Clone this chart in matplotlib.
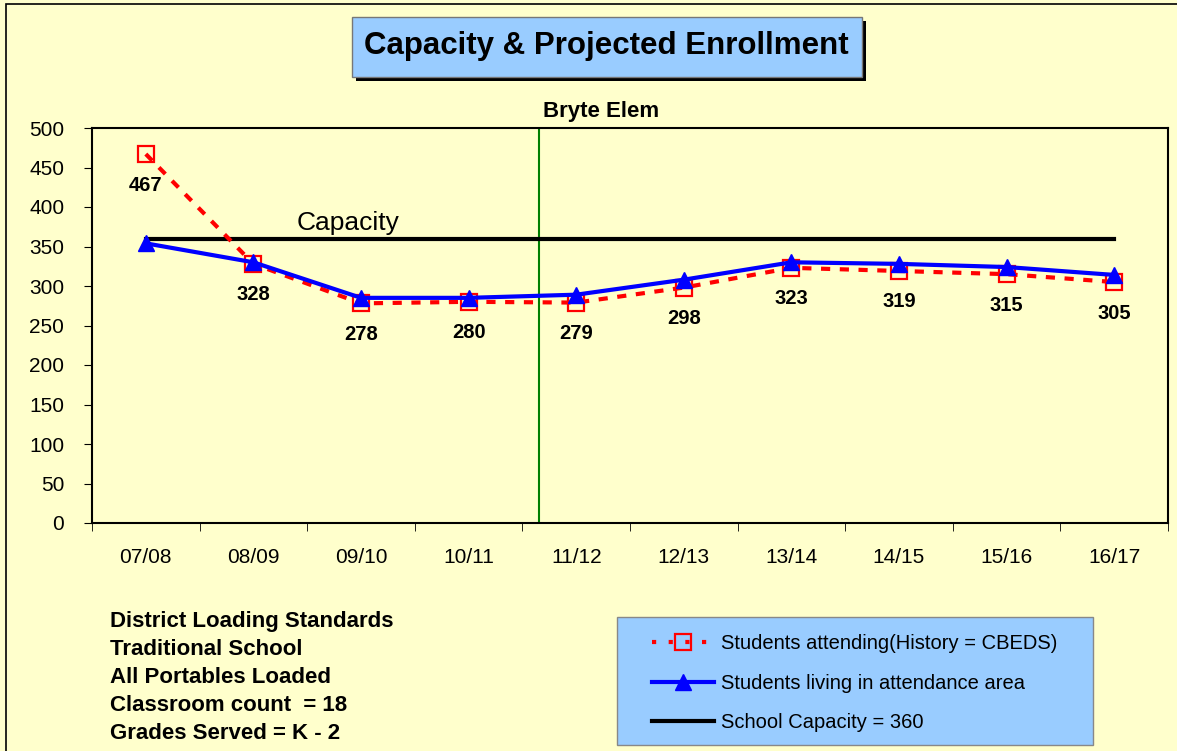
import matplotlib.pyplot as plt
from matplotlib.patches import Rectangle
from matplotlib.lines import Line2D

plt.rcParams['font.family'] = ['Liberation Sans', 'DejaVu Sans']

years = ["07/08", "08/09", "09/10", "10/11", "11/12", "12/13", "13/14", "14/15", "15/16", "16/17"]
attending = [467, 328, 278, 280, 279, 298, 323, 319, 315, 305]
living = [354, 330, 285, 285, 289, 308, 330, 328, 324, 314]
capacity = 360
split_pos = 3.65  # history / projection divider
notes = ["District Loading Standards", "Traditional School", "All Portables Loaded",
         "Classroom count  = 18", "Grades Served = K - 2"]

W, H = 1177, 751
bg = "#FFFFCC"
fig = plt.figure(figsize=(W / 100, H / 100), dpi=100, facecolor=bg)

# outer frame
fig.patches.append(Rectangle((6 / W, -0.1), 1.2, 1 - 4 / H + 0.1, transform=fig.transFigure,
                             fill=False, edgecolor="black", linewidth=1.2))

ax = fig.add_axes([92 / W, 1 - 523 / H, (1168 - 92) / W, (523 - 128) / H])
ax.set_facecolor(bg)
x = list(range(len(years)))

ax.plot([x[0], x[-1]], [capacity, capacity], color="black", linewidth=3, zorder=2)
ax.plot(x, attending, color="red", linestyle=(0, (2.2, 2.3)), linewidth=3, marker="s",
        markersize=12, markerfacecolor="none", markeredgecolor="red", markeredgewidth=1.6, zorder=3)
ax.plot(x, living, color="blue", linewidth=3, marker="^", markersize=12, zorder=4)
ax.axvline(split_pos, color="green", linewidth=1.5, zorder=1)

for xi, v in zip(x, attending):
    ax.annotate(str(v), (xi, v), xytext=(0, -31), textcoords="offset pixels",
                ha="center", va="center", fontsize=14.5, fontweight="bold")

ax.text(1.88, capacity + 5, "Capacity", ha="center", va="bottom", fontsize=19)

ax.set_xlim(-0.5, len(years) - 0.5)
ax.set_ylim(0, 500)
ax.set_yticks(range(0, 501, 50))
ax.set_xticks(x)
ax.set_xticklabels(years)
ax.set_xticks([i - 0.5 for i in range(len(years) + 1)], minor=True)
ax.tick_params(axis="x", which="major", length=0, labelsize=15, pad=18)
ax.tick_params(axis="x", which="minor", length=6, direction="out")
ax.tick_params(axis="y", labelsize=15, length=6, direction="out", pad=14)
for s in ax.spines.values():
    s.set_linewidth(1.5)
fig.text(601 / W, 1 - 111 / H, "Bryte Elem", ha="center", va="center", fontsize=16, fontweight="bold")

# title box with shadow
fig.patches.append(Rectangle((356 / W, 1 - 81 / H), 510 / W, 60 / H, transform=fig.transFigure,
                             facecolor="black", edgecolor="none"))
fig.patches.append(Rectangle((352 / W, 1 - 77 / H), 510 / W, 60 / H, transform=fig.transFigure,
                             facecolor="#99CCFF", edgecolor="#777777", linewidth=1))
fig.text(606 / W, 1 - 46 / H, "Capacity & Projected Enrollment", ha="center", va="center",
         fontsize=22.5, fontweight="bold")

# notes
for i, line in enumerate(notes):
    fig.text(110 / W, 1 - (622 + i * 27.8) / H, line, ha="left", va="center",
             fontsize=16, fontweight="bold")

# legend box
fig.patches.append(Rectangle((617 / W, 1 - 745 / H), 476 / W, 128 / H, transform=fig.transFigure,
                             facecolor="#99CCFF", edgecolor="#888888", linewidth=1))
handles = [
    Line2D([], [], color="red", linestyle=(0, (1, 3)), linewidth=3, marker="s", markersize=12,
           markerfacecolor="none", markeredgecolor="red", markeredgewidth=1.6),
    Line2D([], [], color="blue", linewidth=3, marker="^", markersize=12),
    Line2D([], [], color="black", linewidth=3),
]
labels = ["Students attending(History = CBEDS)", "Students living in attendance area",
          "School Capacity = 360"]
leg = fig.legend(handles, labels, loc="upper left", bbox_to_anchor=(652 / W, 1 - 634 / H),
                 fontsize=14.5, frameon=False, handlelength=3.1, labelspacing=1.03,
                 borderpad=0, handletextpad=0.35, borderaxespad=0)

fig.savefig("out.png", dpi=100, facecolor=bg)
